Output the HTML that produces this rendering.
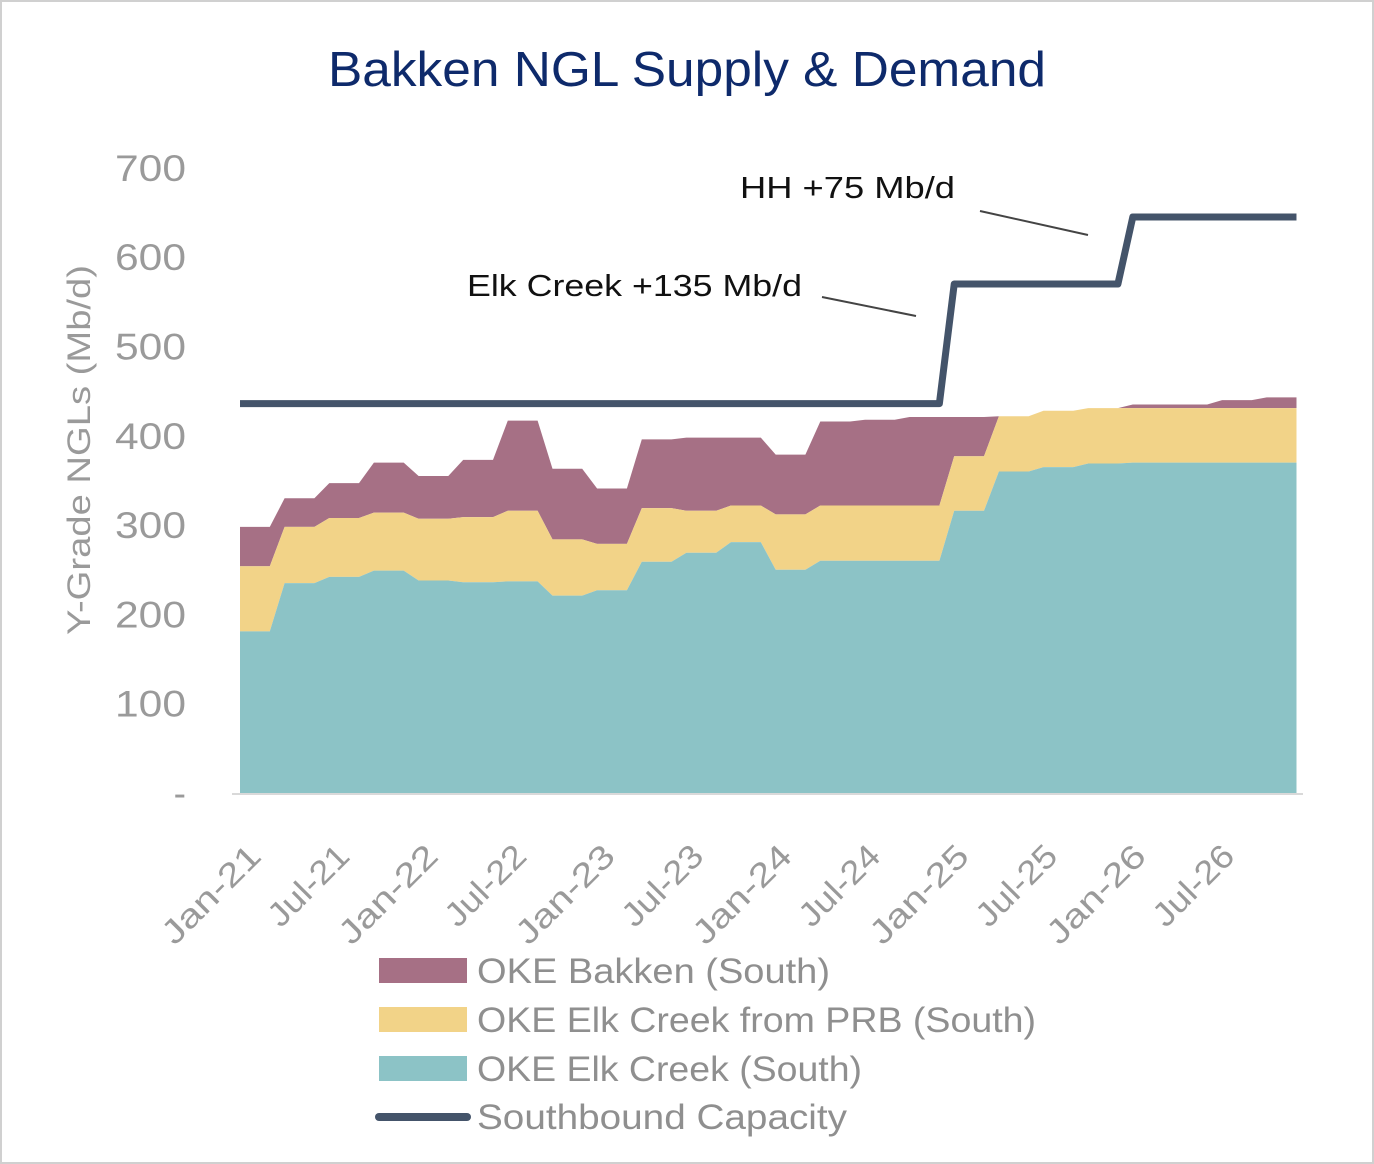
<!DOCTYPE html>
<html><head><meta charset="utf-8"><style>
html,body{margin:0;padding:0;background:#fff}
svg{display:block}
text{font-family:"Liberation Sans",sans-serif}
</style></head><body>
<svg width="1374" height="1164" viewBox="0 0 1374 1164">
<rect x="1" y="1" width="1372" height="1162" fill="#fff" stroke="#d0d0d0" stroke-width="2"/>
<text x="328" y="86" textLength="718" lengthAdjust="spacingAndGlyphs" font-size="49" fill="#0e2a6b">Bakken NGL Supply &amp; Demand</text>
<g id="plot"></g>
<text transform="translate(90,635) rotate(-90)" textLength="370" lengthAdjust="spacingAndGlyphs" font-size="32" fill="#9a9a9a">Y-Grade NGLs (Mb/d)</text>
<text x="467" y="296" textLength="335" lengthAdjust="spacingAndGlyphs" font-size="31" fill="#111">Elk Creek +135 Mb/d</text>
<line x1="822" y1="297" x2="916" y2="316" stroke="#444" stroke-width="2"/>
<text x="740" y="198" textLength="215" lengthAdjust="spacingAndGlyphs" font-size="31" fill="#111">HH +75 Mb/d</text>
<line x1="980" y1="211" x2="1088" y2="235" stroke="#444" stroke-width="2"/>
<g>
<rect x="379" y="958" width="88" height="25" fill="#a67085"/>
<text x="477" y="983" textLength="353" lengthAdjust="spacingAndGlyphs" font-size="35" fill="#8f8f8f">OKE Bakken (South)</text>
<rect x="379" y="1007" width="88" height="25" fill="#f2d388"/>
<text x="477" y="1032" textLength="559" lengthAdjust="spacingAndGlyphs" font-size="35" fill="#8f8f8f">OKE Elk Creek from PRB (South)</text>
<rect x="379" y="1056" width="88" height="25" fill="#8cc3c6"/>
<text x="477" y="1081" textLength="385" lengthAdjust="spacingAndGlyphs" font-size="35" fill="#8f8f8f">OKE Elk Creek (South)</text>
<line x1="379" y1="1117" x2="467" y2="1117" stroke="#44546a" stroke-width="8" stroke-linecap="round"/>
<text x="477" y="1129" textLength="370" lengthAdjust="spacingAndGlyphs" font-size="35" fill="#8f8f8f">Southbound Capacity</text>
</g>
</svg>
<script>
const elkCreek=[181,235,242,249,238,236,237,221,227,259,269,281,250,260,260,260,316,360,365,369,370,370,370,370];
const prb=[73,63,66,65,69,73,79,63,52,60,47,41,62,62,62,62,61,62,63,62,61,61,61,61];
const bakken=[44,32,39,56,48,64,101,79,62,77,82,76,67,94,96,99,44,0,0,0,4,4,9,12];
const capacity=[436,436,436,436,436,436,436,436,436,436,436,436,436,436,436,436,570,570,570,570,645,645,645,645];
const yTicks=[0,100,200,300,400,500,600,700];
const yTickLabels=["-","100","200","300","400","500","600","700"];
const xTickLabels=["Jan-21","Jul-21","Jan-22","Jul-22","Jan-23","Jul-23","Jan-24","Jul-24","Jan-25","Jul-25","Jan-26","Jul-26"];
const NS="http://www.w3.org/2000/svg";
const g=document.getElementById('plot');
const X0=240,PX_M=14.88,Y0=793,PX_U=0.893;
const xm=m=>X0+m*PX_M;
const y=v=>Y0-v*PX_U;
function mk(t,a){const e=document.createElementNS(NS,t);for(const k in a)e.setAttribute(k,a[k]);g.appendChild(e);return e;}
const ax=mk('line',{x1:232,y1:Y0+1,x2:1303,y2:Y0+1,stroke:'#d9d9d9','stroke-width':2});


function pts(arr){const p=[];arr.forEach((v,q)=>{p.push([xm(3*q),y(v)]);p.push([xm(3*q+2),y(v)]);});return p;}
const cum1=elkCreek.slice();
const cum2=elkCreek.map((v,i)=>v+prb[i]);
const cum3=cum2.map((v,i)=>v+bakken[i]);
function band(top,bot,fill,name){
  const t=pts(top);const b=bot?pts(bot).reverse():[[xm(71),Y0],[xm(0),Y0]];
  const d='M'+t.concat(b).map(p=>p[0].toFixed(1)+','+p[1].toFixed(1)).join('L')+'Z';
  const e=mk('path',{d:d,fill:fill});
  
  
}
band(cum3,cum2,'#a67085','area-oke-bakken');
band(cum2,cum1,'#f2d388','area-oke-elk-creek-prb');
band(cum1,null,'#8cc3c6','area-oke-elk-creek');
const cp=pts(capacity);
const cl=mk('polyline',{points:cp.map(p=>p.join(',')).join(' '),fill:'none',stroke:'#44546a','stroke-width':7,'stroke-linejoin':'round'});


yTicks.forEach((v,i)=>{
  const t=mk('text',{x:186,y:y(v)+13,'text-anchor':'end','font-size':37,fill:'#9a9a9a'});
  if(i>0){t.setAttribute('textLength',71);t.setAttribute('lengthAdjust','spacingAndGlyphs');}
  t.textContent=yTickLabels[i];
  
  
});
xTickLabels.forEach((s,i)=>{
  const lx=263+i*6*14.75, ly=858;
  const t=mk('text',{x:lx,y:ly,'text-anchor':'end','font-size':33,fill:'#9a9a9a',transform:`rotate(-45 ${lx} ${ly})`});
  t.setAttribute('textLength',s.startsWith('Jan')?125:100);
  t.setAttribute('lengthAdjust','spacingAndGlyphs');
  t.textContent=s;
  
  
});
</script>
</body></html>
